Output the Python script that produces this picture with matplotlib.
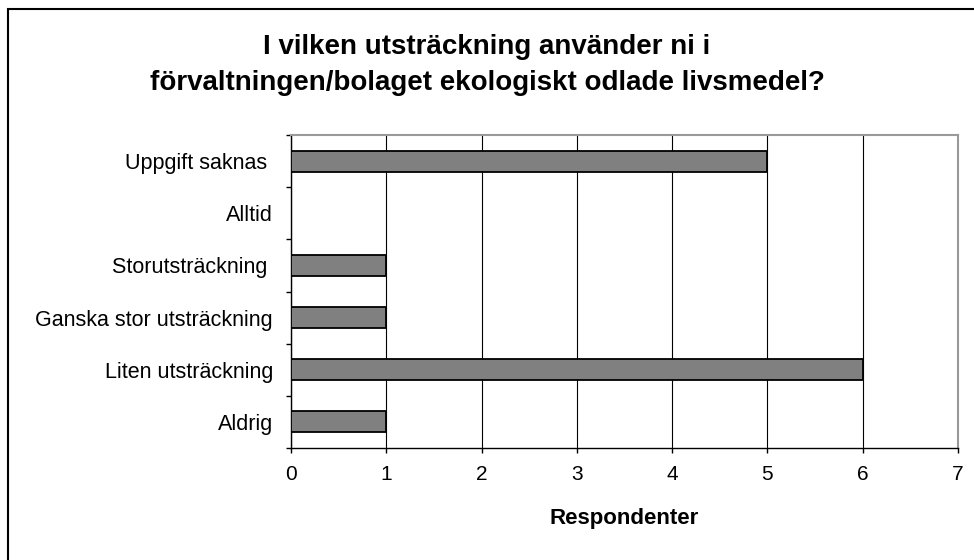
import matplotlib
matplotlib.use("Agg")
import matplotlib.pyplot as plt
from matplotlib.patches import Rectangle
import numpy as np

plt.rcParams['font.family'] = ['Liberation Sans', 'DejaVu Sans']

# data (bottom to top as drawn)
categories = ["Aldrig", "Liten utsträckning", "Ganska stor utsträckning",
              "Storutsträckning ", "Alltid", "Uppgift saknas "]
responses = [1, 6, 1, 1, 0, 5]
x_ticks = [0, 1, 2, 3, 4, 5, 6, 7]

fig = plt.figure(figsize=(9.74, 5.6), dpi=100)
W, H = 974, 560
ax = fig.add_axes([291 / W, 1 - 448 / H, (958 - 291) / W, (448 - 135) / H])

y = np.arange(len(categories))
ax.barh(y, responses, height=0.4, color='#808080', edgecolor='black',
        linewidth=1.3, zorder=3)

ax.set_xlim(0, 7)
ax.set_ylim(-0.5, len(categories) - 0.5)
ax.set_xticks(x_ticks)
ax.xaxis.grid(True, color='black', linewidth=0.8, zorder=0)
ax.set_axisbelow(True)

ax.set_yticks(y)
ax.set_yticklabels(categories, fontsize=15.5)
ax.set_yticks(np.arange(-0.5, len(categories), 1), minor=True)
ax.tick_params(axis='y', which='major', length=0, pad=13)
ax.tick_params(axis='y', which='minor', length=3.6, width=1, color='black')
ax.tick_params(axis='x', length=3.6, width=1, labelsize=15, pad=9)

for s in ['left', 'bottom']:
    ax.spines[s].set_color('black')
    ax.spines[s].set_linewidth(1)
for s in ['top', 'right']:
    ax.spines[s].set_color('#999999')
    ax.spines[s].set_linewidth(1.5)

ax.set_xlabel("Respondenter", fontsize=16, fontweight='bold', labelpad=17)

fig.text(0.5, 1 - 64.5 / H,
         "I vilken utsträckning använder ni i\nförvaltningen/bolaget ekologiskt odlade livsmedel?",
         ha='center', va='center', fontsize=20, fontweight='bold', linespacing=1.5)

# outer chart border (cut off at right and bottom)
fig.patches.append(Rectangle((8 / W, -0.2), 2.0, 1.2 - 9 / H, transform=fig.transFigure,
                             fill=False, edgecolor='black', linewidth=1.5))

fig.savefig("out.png", dpi=100)
